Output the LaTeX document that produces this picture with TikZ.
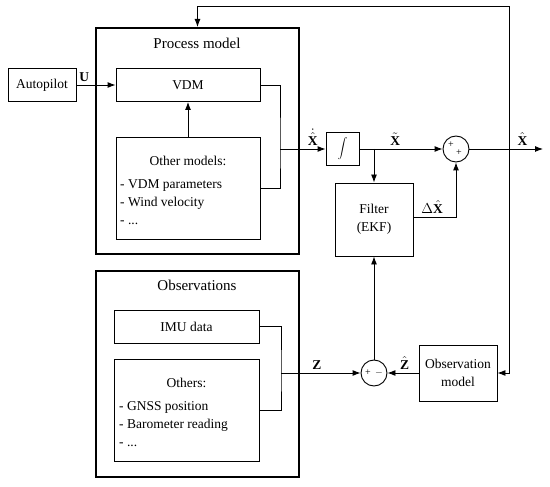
\documentclass[tikz,border=0pt]{standalone}
\usepackage{fontspec}
\setmainfont{Liberation Serif}
\usetikzlibrary{arrows.meta,positioning,calc}

\begin{document}
\begin{tikzpicture}[
    x=1pt, y=-1pt,
    font=\fontsize{13.5}{18}\selectfont,
    blk/.style={draw, line width=0.9pt, inner sep=0pt, align=center},
    grp/.style={draw, line width=2pt, inner sep=0pt},
    ttl/.style={font=\fontsize{15}{18}\selectfont},
    lst/.style={anchor=north west, align=left, inner sep=0pt},
    sumc/.style={draw, circle, line width=0.9pt, minimum size=26pt, inner sep=0pt},
    sgn/.style={font=\fontsize{10}{10}\selectfont, inner sep=0pt},
    ar/.style={-{Latex[length=8pt,width=6pt]}, line width=0.9pt},
    ln/.style={line width=0.9pt},
  ]
    \useasboundingbox (0,0) rectangle (550,487);

    % process model group
    \node[grp, minimum width=203pt, minimum height=226pt] (proc) at (197.5,141) {};
    \node[ttl] (proct) at (197,43) {Process model};
    \node[blk, minimum width=68pt, minimum height=33pt] (auto) at (42,85) {Autopilot};
    \node[blk, minimum width=144pt, minimum height=33pt] (vdm) at (188,85) {VDM};
    \node[blk, minimum width=144pt, minimum height=102pt] (other) at (188,188) {};
    \node[anchor=base] (othert) at (188,165) {Other models:};
    \node[lst] (otherl) at (120,179) {- VDM parameters\\- Wind velocity\\- ...};

    % observations group
    \node[grp, minimum width=203pt, minimum height=206pt] (obs) at (197.5,374) {};
    \node[ttl] (obst) at (197,285) {Observations};
    \node[blk, minimum width=145pt, minimum height=33pt] (imu) at (186.5,326.5) {IMU data};
    \node[blk, minimum width=145pt, minimum height=102pt] (others) at (186.5,410) {};
    \node[anchor=base] (otherst) at (186.5,387) {Others:};
    \node[lst] (othersl) at (119,401) {- GNSS position\\- Barometer reading\\- ...};

    % estimator
    \node[blk, minimum width=33pt, minimum height=33pt] (integ) at (342.5,149) {$\displaystyle\int$};
    \node[sumc] (sum1) at (456,149) {};
    \node[sgn] at ($(sum1.center)+(-5,-4)$) {+};
    \node[sgn] at ($(sum1.center)+(3,4)$) {+};
    \node[blk, minimum width=78pt, minimum height=73pt] (filter) at (374,219.5) {Filter\\(EKF)};
    \node[sumc] (sum2) at (374,373) {};
    \node[sgn] at ($(sum2.center)+(-6,0)$) {+};
    \node[sgn] at ($(sum2.center)+(5,0)$) {$-$};
    \node[blk, minimum width=78pt, minimum height=56pt] (obsm) at (458,373) {Observation\\model};

    \coordinate (j1) at (280,149);
    \coordinate (j2) at (374,149);
    \coordinate (j3) at (509,149);
    \coordinate (j4) at (281,373);
    \coordinate (top) at (509,6);
    \coordinate (out) at (543,149);

    \draw[ar] (auto) -- node[above, pos=0.2]{\textbf{U}} (vdm);
    \draw[ar] (other) -- (vdm);
    \draw[ln] (vdm.east) -| (j1) |- (other.east);
    \draw[ar] (j1) -- node[above, pos=0.72]{$\dot{\hat{\textbf{X}}}$} (integ);
    \draw[ar] (integ) -- node[above, pos=0.43]{$\tilde{\textbf{X}}$} (sum1);
    \draw[ar] (j2) -- (filter);
    \draw[ar] ($(filter.east)+(0,-2.5)$) -| node[above, pos=0.22]{$\Delta\hat{\textbf{X}}$} (sum1);
    \draw[ar] (sum1) -- node[above, pos=0.72]{$\hat{\textbf{X}}$} (out);
    \draw[ar] (j3) -- (top) -| (proc.north);
    \draw[ar] (j3) |- (obsm.east);
    \draw[ln] (imu.east) -| (j4) |- (others.east);
    \draw[ar] (j4) -- node[above, pos=0.45]{\textbf{Z}} (sum2);
    \draw[ar] (obsm) -- node[above, pos=0.45]{$\hat{\textbf{Z}}$} (sum2);
    \draw[ar] (sum2) -- (filter);
  \end{tikzpicture}
\end{document}
